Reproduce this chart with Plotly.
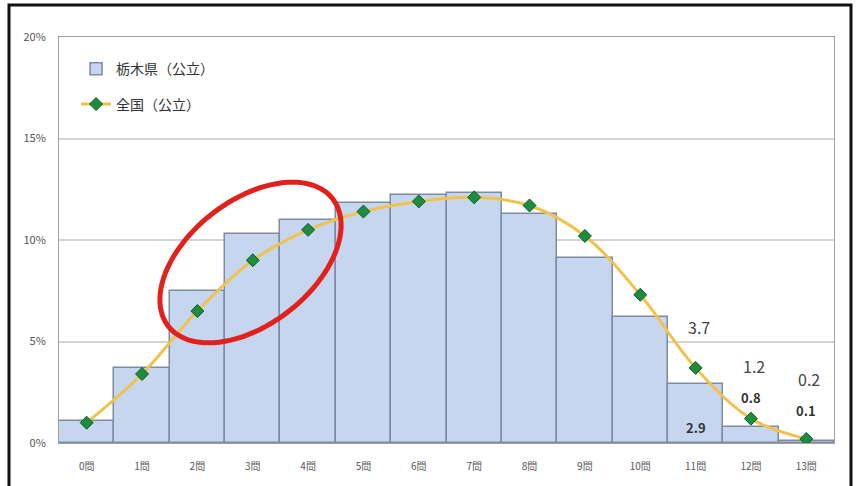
import numpy as np
import plotly.graph_objects as go

categories = [f"{i}問" for i in range(14)]
tochigi = [1.1, 3.7, 7.5, 10.3, 11.0, 11.8, 12.2, 12.3, 11.3, 9.1, 6.2, 2.9, 0.8, 0.1]
national = [1.0, 3.4, 6.5, 9.0, 10.5, 11.4, 11.9, 12.1, 11.7, 10.2, 7.3, 3.7, 1.2, 0.2]
y_ticks = [0, 5, 10, 15, 20]
y_tick_labels = ["0%", "5%", "10%", "15%", "20%"]

# plot-area pixel geometry (for decorations only)
L, R, T, B = 59, 834, 37, 443
W, H = 856, 486


def px_to_paper(px, py):
    return (px - L) / (R - L), (B - py) / (B - T)


fig = go.Figure()
fig.add_trace(go.Bar(
    x=categories, y=tochigi, name="栃木県（公立）",
    marker=dict(color="#c6d6ee", line=dict(color="#7d8ba3", width=1.5)),
    hoverinfo="x+y", legendgroup="a",
))
fig.add_trace(go.Scatter(
    x=categories, y=national, name="全国（公立）", mode="lines+markers", legendgroup="b",
    line=dict(color="#f1c24c", width=3, shape="spline", smoothing=1.0),
    marker=dict(symbol="diamond", size=10, color="#1e8c3e", line=dict(color="#0e5c28", width=1)),
))

# value labels
nat_label_idx = [11, 12, 13]
nat_label_shift = [41, 53, 60]
for i, s in zip(nat_label_idx, nat_label_shift):
    fig.add_annotation(x=categories[i], y=national[i], text=f"{national[i]:.1f}", showarrow=False,
                       yshift=s, xshift=3, font=dict(size=16, color="#444444"))
toch_label_idx = [11, 12, 13]
toch_label_shift = [-43, 29, 30]
for i, s in zip(toch_label_idx, toch_label_shift):
    fig.add_annotation(x=categories[i], y=tochigi[i], text=f"<b>{tochigi[i]:.1f}</b>", showarrow=False,
                       yshift=s, xshift=0, font=dict(size=13, color="#333333"))

# red ellipse highlight
cx, cy, a, b, th = 250.5, 262.5, 104, 62, np.deg2rad(37.7)
t = np.linspace(0, 2 * np.pi, 97)
ex = cx + a * np.cos(t) * np.cos(th) - b * np.sin(t) * np.sin(th)
ey = cy - (a * np.cos(t) * np.sin(th) + b * np.sin(t) * np.cos(th))
pts = [px_to_paper(x, y) for x, y in zip(ex, ey)]
path = "M " + " L ".join(f"{x:.4f},{y:.4f}" for x, y in pts) + " Z"
fig.add_shape(type="path", path=path, xref="paper", yref="paper",
              line=dict(color="#e3211c", width=5))

# outer black frame
fx0, fy0 = px_to_paper(9, 492)
fx1, fy1 = px_to_paper(851, 5)
fig.add_shape(type="rect", xref="paper", yref="paper", x0=fx0, y0=fy0, x1=fx1, y1=fy1,
              line=dict(color="#111111", width=3), layer="above")

fig.update_layout(
    width=W, height=H,
    margin=dict(l=L, r=W - R, t=T, b=H - B, autoexpand=False),
    paper_bgcolor="white", plot_bgcolor="white",
    bargap=0,
    font=dict(family="Noto Sans CJK JP, Noto Sans, sans-serif", color="#444444"),
    showlegend=True,
    legend=dict(x=0.022, y=0.96, xanchor="left", yanchor="top", bgcolor="rgba(0,0,0,0)",
                font=dict(size=14, color="#333333"), tracegroupgap=14, traceorder="grouped",
                itemwidth=30),
    xaxis=dict(range=[-0.5, 13.5], showgrid=False, showline=True, linecolor="#a0a0a0", mirror=True,
               tickfont=dict(size=10, color="#555555"), ticks="", ticklen=0, ticklabelstandoff=14),
    yaxis=dict(range=[0, 20], tickvals=y_ticks, ticktext=y_tick_labels, showgrid=True,
               gridcolor="#d4d4d4", gridwidth=1.5, showline=True, linecolor="#a0a0a0", mirror=True,
               tickfont=dict(size=11, color="#555555"), zeroline=False, ticklen=0,
               ticklabelstandoff=10),
)

fig.write_html("out.html", post_script="document.body.style.margin='0';",
               config={"displayModeBar": False})
